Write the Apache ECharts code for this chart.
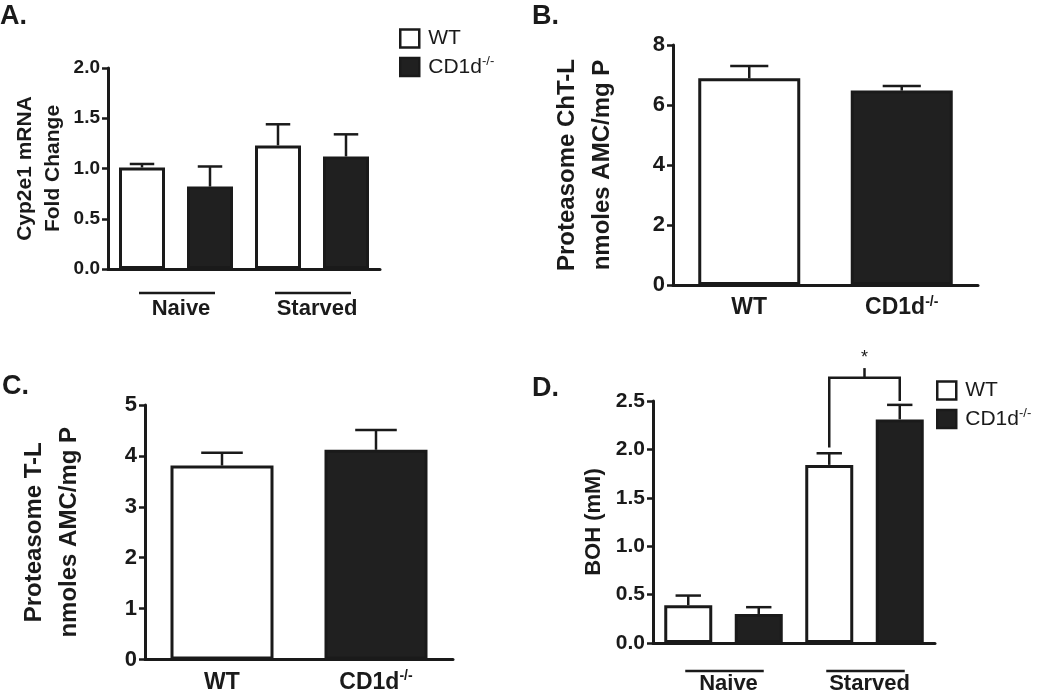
<!DOCTYPE html>
<html>
<head>
<meta charset="utf-8">
<script src="https://cdn.jsdelivr.net/npm/echarts@6/dist/echarts.min.js"></script>
<style>
  html, body { margin: 0; background: #fff; }
  #main { width: 1050px; height: 694px; }
</style>
</head>
<body>
<div id="main"></div>
<script>
// A. Cyp2e1 mRNA fold change
const aCats = ['Naive WT', 'Naive CD1d', 'Starved WT', 'Starved CD1d'];
const aMean = [1.01, 0.82, 1.23, 1.12];
const aSem = [0.035, 0.20, 0.21, 0.22];
const aGroups = ['Naive', 'Starved'];

// B. Proteasome ChT-L
const bCats = ['WT', 'CD1d-/-'];
const bMean = [6.89, 6.48];
const bSem = [0.41, 0.15];

// C. Proteasome T-L
const cCats = ['WT', 'CD1d-/-'];
const cMean = [3.81, 4.12];
const cSem = [0.25, 0.39];

// D. BOH
const dCats = ['Naive WT', 'Naive CD1d', 'Starved WT', 'Starved CD1d'];
const dMean = [0.39, 0.30, 1.84, 2.31];
const dSem = [0.10, 0.07, 0.12, 0.15];
const dGroups = ['Naive', 'Starved'];
const dSigPair = [2, 3];
const dSigLevel = 2.74;
const dSigLabel = '*';

const FONT = '"Liberation Sans", Arial, sans-serif';
const ink = '#1a1a1a';
const dark = '#202020';

// even index = WT, odd index = CD1d (for grouped panels)
const pick = (arr, odd) => arr.map((v, i) => (i % 2 === (odd ? 1 : 0) ? v : '-'));

function errRender(capFrac) {
  return function (params, api) {
    const x = api.value(0), m = api.value(1), s = api.value(2);
    const p0 = api.coord([x, m]);
    const p1 = api.coord([x, m + s]);
    const half = api.size([1, 0])[0] * capFrac / 2;
    const st = { stroke: ink, lineWidth: 2.5 };
    return {
      type: 'group',
      children: [
        { type: 'line', shape: { x1: p0[0], y1: p0[1], x2: p1[0], y2: p1[1] }, style: st },
        { type: 'line', shape: { x1: p1[0] - half, y1: p1[1], x2: p1[0] + half, y2: p1[1] }, style: st }
      ]
    };
  };
}

function groupRender(names, lineOff, textOff) {
  return function (params, api) {
    const a = api.coord([api.value(0), 0]);
    const b = api.coord([api.value(1), 0]);
    const y = a[1];
    return {
      type: 'group',
      children: [
        { type: 'line', shape: { x1: a[0] - 3, y1: y + lineOff, x2: b[0] + 5, y2: y + lineOff },
          style: { stroke: ink, lineWidth: 2.5 } },
        { type: 'text', style: { text: names[params.dataIndex], x: (a[0] + b[0]) / 2 + 5, y: y + textOff,
          align: 'center', verticalAlign: 'top', font: 'bold 22px ' + FONT, fill: ink } }
      ]
    };
  };
}

function sigRender(params, api) {
  const i = api.value(0), j = api.value(1), lvl = api.value(2);
  const pi = api.coord([i, dMean[i] + dSem[i] + 0.06]);
  const pj = api.coord([j, dMean[j] + dSem[j] + 0.04]);
  const top = api.coord([i, lvl])[1];
  const tickTop = api.coord([i, lvl + 0.1])[1];
  const mx = (pi[0] + pj[0]) / 2;
  const st = { stroke: ink, lineWidth: 2.5, fill: null };
  return {
    type: 'group',
    children: [
      { type: 'polyline', shape: { points: [[pi[0], pi[1]], [pi[0], top], [pj[0], top], [pj[0], pj[1]]] }, style: st },
      { type: 'line', shape: { x1: mx, y1: top, x2: mx, y2: tickTop }, style: st },
      { type: 'text', style: { text: dSigLabel, x: mx, y: tickTop - 1, align: 'center', verticalAlign: 'bottom',
        font: '18px ' + FONT, fill: ink } }
    ]
  };
}

function barSeries(idx, data, isKo, width) {
  return {
    type: 'bar',
    name: isKo ? 'CD1d-/-' : 'WT',
    xAxisIndex: idx, yAxisIndex: idx,
    data: data,
    barWidth: width,
    barGap: '-100%',
    itemStyle: { color: isKo ? dark : '#fff', borderColor: ink, borderWidth: 3 }
  };
}

function errSeries(idx, mean, sem, capFrac) {
  return {
    type: 'custom', name: 'err' + idx,
    xAxisIndex: idx, yAxisIndex: idx,
    renderItem: errRender(capFrac),
    encode: { x: 0, y: 1 },
    clip: false, z: 3,
    data: mean.map((m, i) => [i, m, sem[i]])
  };
}

const koLabel = {
  b: { fontSize: 23, fontWeight: 'bold', fontFamily: FONT, color: ink, lineHeight: 26 },
  s: { fontSize: 14, fontWeight: 'bold', fontFamily: FONT, color: ink, verticalAlign: 'top', lineHeight: 26 }
};

function xAxis(idx, cats, showLabel) {
  return {
    type: 'category', gridIndex: idx, data: cats,
    axisLine: { lineStyle: { color: ink, width: 3 } },
    axisTick: { alignWithLabel: true, length: 7, lineStyle: { color: ink, width: 2.5 } },
    axisLabel: {
      show: showLabel, margin: 10,
      formatter: v => (v === 'CD1d-/-' ? '{b|CD1d}{s|-/-}' : '{b|' + v + '}'),
      rich: koLabel
    }
  };
}

function yAxis(idx, max, interval, name, nameGap, nameSize, lineH, labelSize, decimals) {
  return {
    type: 'value', gridIndex: idx, min: 0, max: max, interval: interval,
    name: name, nameLocation: 'middle', nameRotate: 90, nameGap: nameGap,
    nameTextStyle: { fontSize: nameSize, fontWeight: 'bold', fontFamily: FONT, color: ink, lineHeight: lineH },
    axisLine: { show: true, lineStyle: { color: ink, width: 3 } },
    axisTick: { show: true, length: 6, lineStyle: { color: ink, width: 2.5 } },
    axisLabel: { fontSize: labelSize, fontWeight: 'bold', fontFamily: FONT, color: ink, margin: 8,
      formatter: v => v.toFixed(decimals) },
    splitLine: { show: false }
  };
}

function legend(left, top) {
  return {
    left: left, top: top, orient: 'vertical', icon: 'rect', padding: 0,
    itemWidth: 19, itemHeight: 18, itemGap: 6,
    data: [
      { name: 'WT', itemStyle: { color: '#fff', borderColor: ink, borderWidth: 2.5 } },
      { name: 'CD1d-/-', itemStyle: { color: dark, borderColor: ink, borderWidth: 2.5 } }
    ],
    formatter: n => (n === 'CD1d-/-' ? '{b|CD1d}{s|-/-}' : '{b|' + n + '}'),
    textStyle: {
      padding: [0, 0, 0, 4],
      rich: {
        b: { fontSize: 21, fontFamily: FONT, color: ink, lineHeight: 24 },
        s: { fontSize: 13, fontFamily: FONT, color: ink, verticalAlign: 'top', lineHeight: 24 }
      }
    }
  };
}

const panelTitle = (text, left, top) => ({
  text: text, left: left, top: top, padding: 0,
  textStyle: { fontSize: 27, fontWeight: 'bold', fontFamily: FONT, color: ink }
});

const chart = echarts.init(document.getElementById('main'));
chart.setOption({
  animation: false,
  backgroundColor: '#fff',
  title: [
    panelTitle('A.', 0, 3),
    panelTitle('B.', 532, 3),
    panelTitle('C.', 2, 373),
    panelTitle('D.', 532, 375)
  ],
  legend: [legend(399, 28), legend(936, 380)],
  grid: [
    { left: 108, top: 68, right: 670, bottom: 425 },
    { left: 673, top: 45, right: 72, bottom: 409 },
    { left: 145, top: 405, right: 597, bottom: 32 },
    { left: 653, top: 401, right: 115, bottom: 51 }
  ],
  xAxis: [
    xAxis(0, aCats, false),
    xAxis(1, bCats, true),
    xAxis(2, cCats, true),
    xAxis(3, dCats, false)
  ],
  yAxis: [
    yAxis(0, 2.0, 0.5, 'Cyp2e1 mRNA\nFold Change', 41, 21, 28, 19, 1),
    yAxis(1, 8, 2, 'Proteasome ChT-L\nnmoles AMC/mg P', 53, 24, 35, 22, 0),
    yAxis(2, 5, 1, 'Proteasome T-L\nnmoles AMC/mg P', 58, 24, 35, 22, 0),
    yAxis(3, 2.5, 0.5, 'BOH (mM)', 46, 22, 26, 21, 1)
  ],
  series: [
    barSeries(0, pick(aMean, false), false, 46),
    barSeries(0, pick(aMean, true), true, 46),
    errSeries(0, aMean, aSem, 0.36),
    {
      type: 'custom', name: 'groupsA', xAxisIndex: 0, yAxisIndex: 0,
      renderItem: groupRender(aGroups, 24, 29), encode: { x: 0, y: 2 }, clip: false,
      data: aGroups.map((g, i) => [2 * i, 2 * i + 1, 0])
    },

    barSeries(1, [bMean[0], '-'], false, 102),
    barSeries(1, ['-', bMean[1]], true, 102),
    errSeries(1, bMean, bSem, 0.25),

    barSeries(2, [cMean[0], '-'], false, 103),
    barSeries(2, ['-', cMean[1]], true, 103),
    errSeries(2, cMean, cSem, 0.27),

    barSeries(3, pick(dMean, false), false, 48),
    barSeries(3, pick(dMean, true), true, 48),
    errSeries(3, dMean, dSem, 0.36),
    {
      type: 'custom', name: 'groupsD', xAxisIndex: 3, yAxisIndex: 3,
      renderItem: groupRender(dGroups, 28, 30), encode: { x: 0, y: 2 }, clip: false,
      data: dGroups.map((g, i) => [2 * i, 2 * i + 1, 0])
    },
    {
      type: 'custom', name: 'sigD', xAxisIndex: 3, yAxisIndex: 3,
      renderItem: sigRender, encode: { x: 0, y: 2 }, clip: false, z: 4,
      data: [[dSigPair[0], dSigPair[1], dSigLevel]]
    }
  ]
});
</script>
</body>
</html>
